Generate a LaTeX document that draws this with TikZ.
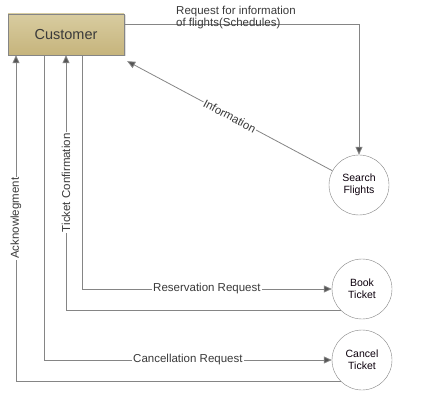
\documentclass[tikz,border=0pt]{standalone}
\usepackage{fontspec}
\setmainfont{Liberation Sans}
\usepackage{tikz}
\usetikzlibrary{arrows.meta,shadows}
\definecolor{custtop}{HTML}{D8CCA0}
\definecolor{custbot}{HTML}{C6B47C}
\definecolor{linegray}{HTML}{858585}
\definecolor{tipgray}{HTML}{555555}
\definecolor{txtgray}{HTML}{3A3A3A}

\begin{document}
\begin{tikzpicture}[x=1pt, y=-1pt, >={Triangle[length=8pt,width=7pt]},
  every node/.style={font=\fontsize{11.5}{12}\selectfont, text=txtgray},
  entity/.style={draw=linegray, top color=custtop, bottom color=custbot,
    minimum width=116pt, minimum height=41pt,
    drop shadow={shadow xshift=1.5pt, shadow yshift=-1.5pt, opacity=0.25},
    font=\fontsize{14.5}{16}\selectfont},
  proc/.style={draw=linegray, circle, fill=white, minimum size=60pt, inner sep=0pt,
    align=center, text=black!90!violet, font=\fontsize{10.5}{12}\selectfont},
  flow/.style={draw=linegray, thick, -{Triangle[length=8pt,width=7pt,fill=tipgray]}},
  plain/.style={draw=linegray, thick},
  lbl/.style={fill=white, inner sep=1pt}]
  \useasboundingbox (0,0) rectangle (425,411);

  % entity and processes
  \node[entity] (cust) at (66,34.5) {Customer};
  \node[proc] (search) at (359,185) {Search\\Flights};
  \node[proc] (book) at (362,289) {Book\\Ticket};
  \node[proc] (cancel) at (362,360) {Cancel\\Ticket};

  % data flows
  \draw[flow] ([yshift=10.5pt]cust.east) -| (search.north);
  \node[anchor=north west, align=left, inner sep=0pt] (reqlbl) at (176,6) {Request for information\\of flights(Schedules)};

  \draw[flow] (search) -- ([shift={(3pt,-6pt)}]cust.south east)
    node[lbl, midway, sloped] {Information};

  \draw[flow] ([xshift=16pt]cust.south) |- (book)
    node[lbl, pos=0.75] {Reservation Request};
  \draw[flow] (book.south west) -| (cust.south)
    node[lbl, pos=0.75, rotate=90] {Ticket Confirmation};

  \draw[flow] ([xshift=-22pt]cust.south) |- (cancel)
    node[lbl, pos=0.75] {Cancellation Request};
  \draw[flow] (cancel.south west) -| ([xshift=-50pt]cust.south)
    node[lbl, pos=0.75, rotate=90] {Acknowlegment};
\end{tikzpicture}
\end{document}
